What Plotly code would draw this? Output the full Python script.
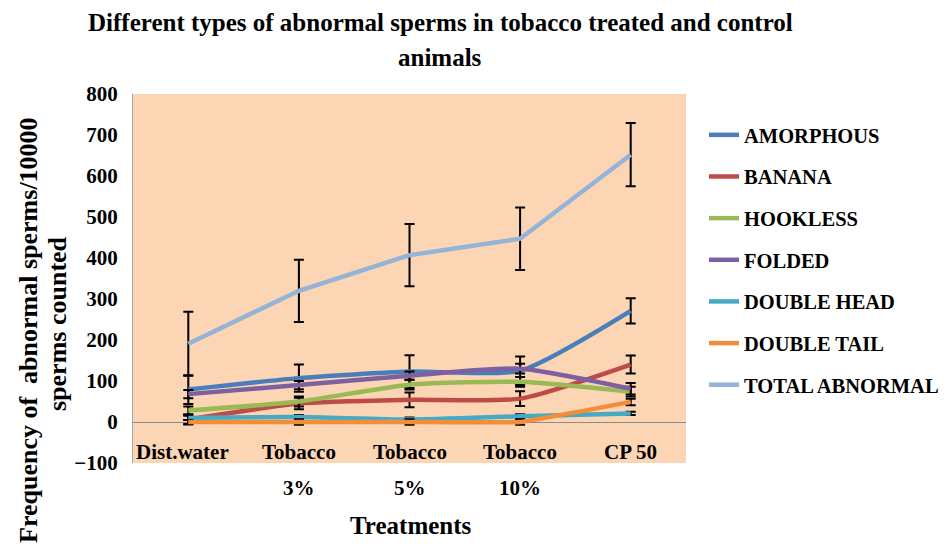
import plotly.graph_objects as go

categories = ["Dist.water", "Tobacco 3%", "Tobacco 5%", "Tobacco 10%", "CP 50"]
label_line1 = ["Dist.water", "Tobacco", "Tobacco", "Tobacco", "CP 50"]
label_line2 = ["", "3%", "5%", "10%", ""]

amorphous = [79, 107, 123, 125, 271]
banana = [6, 45, 54, 57, 140]
hookless = [28, 50, 91, 98, 74]
folded = [68, 90, 113, 130, 81]
double_head = [10, 12, 6, 14, 21]
double_tail = [0, 0, 0, 0, 49]
total = [191, 320, 407, 447, 652]

err_amorphous = [35, 33, 40, 35, 31]
err_banana = [12, 14, 18, 18, 22]
err_hookless = [10, 12, 12, 12, 12]
err_folded = [10, 10, 10, 12, 14]
err_double_head = [5, 5, 5, 5, 4]
err_double_tail = [5, 7, 7, 7, 8]
err_total = [78, 76, 76, 76, 77]

series = [
    ("AMORPHOUS", amorphous, err_amorphous, "#4A7EBB", "spline", 0.6),
    ("BANANA", banana, err_banana, "#BE4B48", "spline", 0.6),
    ("HOOKLESS", hookless, err_hookless, "#98B954", "spline", 0.6),
    ("FOLDED", folded, err_folded, "#7D60A0", "spline", 0.6),
    ("DOUBLE HEAD", double_head, err_double_head, "#46AAC5", "spline", 0.6),
    ("DOUBLE TAIL", double_tail, err_double_tail, "#F28E3A", "spline", 0.25),
    ("TOTAL ABNORMAL", total, err_total, "#95B3D7", "linear", 0),
]

FONT = "Liberation Serif"

fig = go.Figure()
for name, vals, errs, color, shape, smooth in series:
    line = dict(color=color, width=4.5, shape=shape)
    if shape == "spline":
        line["smoothing"] = smooth
    fig.add_trace(go.Scatter(
        x=categories, y=vals, name=name, mode="lines", line=line,
        error_y=dict(type="data", array=errs, visible=True, color="black",
                     thickness=2, width=5),
        legendgroup=name,
    ))

OFF = 8  # page offset of the figure inside the window
W, H = 939, 541
L, R, T, B = 125, 261, 86, 86
pw, ph = W - L - R, H - T - B


def px_x(px):
    return (px - OFF - L) / pw


def px_y(py):
    return (H - B - (py - OFF)) / ph


def bold(size):
    return dict(family=FONT, size=size, color="black", weight="bold")


annotations = []
for i, (cat, l1, l2) in enumerate(zip(categories, label_line1, label_line2)):
    annotations.append(dict(x=cat, xref="x", y=px_y(452), yref="paper",
                            text=l1, showarrow=False, yanchor="middle",
                            xshift=-6 if i == 0 else 0, font=bold(21)))
    if l2:
        annotations.append(dict(x=cat, xref="x", y=px_y(488), yref="paper",
                                text=l2, showarrow=False, yanchor="middle",
                                font=bold(21)))

annotations += [
    dict(x=px_x(440), y=px_y(22), xref="paper", yref="paper",
         text="Different types of abnormal sperms in tobacco treated and control",
         showarrow=False, xanchor="center", yanchor="middle", font=bold(25)),
    dict(x=px_x(440), y=px_y(58), xref="paper", yref="paper",
         text="animals", showarrow=False, xanchor="center", yanchor="middle",
         font=bold(25)),
    dict(x=px_x(411), y=px_y(525), xref="paper", yref="paper",
         text="Treatments", showarrow=False, xanchor="center", yanchor="middle",
         font=bold(25)),
    dict(x=px_x(28), y=px_y(330), xref="paper", yref="paper",
         text="Frequency of  abnormal sperms/10000", textangle=-90,
         showarrow=False, xanchor="center", yanchor="middle", font=bold(26)),
    dict(x=px_x(57), y=px_y(324), xref="paper", yref="paper",
         text="sperms counted", textangle=-90,
         showarrow=False, xanchor="center", yanchor="middle", font=bold(26)),
]

fig.update_layout(
    width=W, height=H,
    margin=dict(l=L, r=R, t=T, b=B, autoexpand=False),
    paper_bgcolor="white",
    plot_bgcolor="#FCD5B5",
    showlegend=True,
    legend=dict(x=px_x(704), y=px_y(115), xanchor="left", yanchor="top",
                font=bold(20.5), tracegroupgap=12, bgcolor="rgba(0,0,0,0)"),
    annotations=annotations,
    xaxis=dict(type="category", range=[-0.5, 4.5], showticklabels=False,
               showgrid=False, zeroline=False, showline=False, ticks=""),
    yaxis=dict(range=[-100, 800], dtick=100, showgrid=False,
               zeroline=True, zerolinecolor="#8C8C8C", zerolinewidth=1,
               showline=True, linecolor="#A6A6A6", linewidth=1,
               ticks="", ticklabelstandoff=10, tickfont=bold(21)),
)

fig.write_html("out.html")
